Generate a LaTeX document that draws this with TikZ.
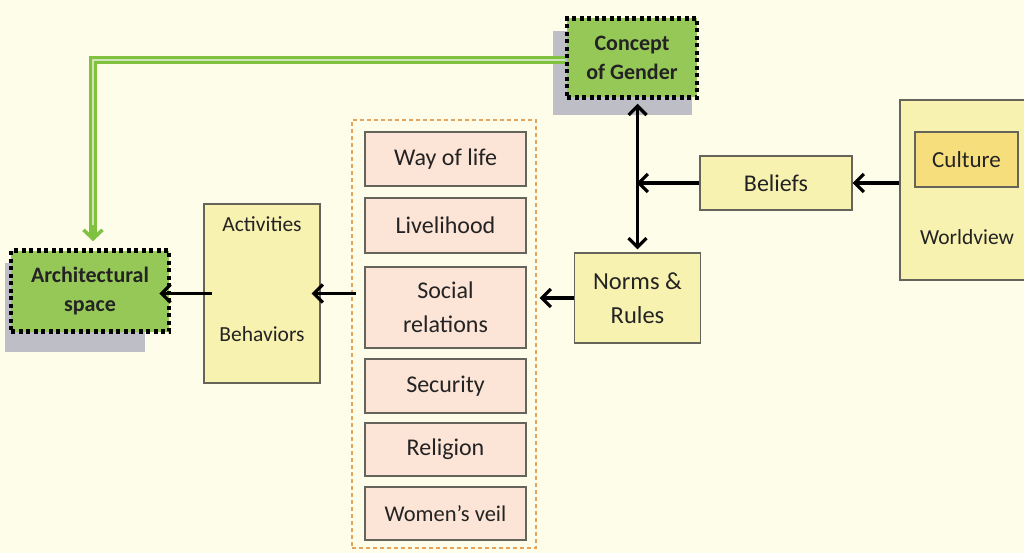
\documentclass[tikz,border=0pt]{standalone}
\usepackage{fontspec}
\setmainfont{Carlito}
\usetikzlibrary{arrows.meta,backgrounds}
\definecolor{cream}{RGB}{253,253,233}
\definecolor{pale}{RGB}{248,242,176}
\definecolor{deep}{RGB}{247,222,125}
\definecolor{pink}{RGB}{252,228,214}
\definecolor{leaf}{RGB}{150,200,88}
\definecolor{vine}{RGB}{128,194,64}
\definecolor{edge}{RGB}{100,100,90}
\definecolor{ink}{RGB}{35,35,35}
\definecolor{smoke}{RGB}{190,190,198}
\definecolor{rim}{RGB}{228,165,90}
\tikzset{
  box/.style={draw=edge, line width=1.2pt, fill=pale, text=ink, align=center, inner sep=0pt},
  item/.style={box, fill=pink, minimum width=161pt, font=\fontsize{24}{28}\selectfont},
  hot/.style={draw=black, line width=4.5pt, dash pattern=on 4pt off 3.5pt, fill=leaf, align=center,
    text=ink, inner sep=0pt, font=\bfseries\fontsize{22}{29}\selectfont},
  arr/.style={line width=3.2pt, -{Straight Barb[length=9pt,width=18pt]}},
  txt/.style={text=ink, inner sep=0pt, font=\fontsize{21.5}{24}\selectfont}
}
\begin{document}
\begin{tikzpicture}[x=1pt,y=-1pt]
  \clip (0,0) rectangle (1024,553);
  \node[hot, minimum width=130pt, minimum height=79pt] (concept) at (632,58) {Concept\\of Gender};
  \node[hot, minimum width=158pt, minimum height=81pt] (arch) at (90,291) {Architectural\\space};
  \node[box, minimum width=116pt, minimum height=179pt] (act) at (262,293.5) {};
  \node[txt] at (262,224) {Activities};
  \node[txt] at (262,334) {Behaviors};
  \node[draw=rim, line width=1.2pt, dash pattern=on 4pt off 3pt, minimum width=184pt, minimum height=428pt] (group) at (444,334) {};
  \node[item, minimum height=54pt] (way) at (445.5,159) {Way of life};
  \node[item, minimum height=55pt] (live) at (445.5,225.5) {Livelihood};
  \node[item, minimum height=81pt, font=\fontsize{24}{34}\selectfont] (social) at (445.5,307.5) {Social\\relations};
  \node[item, minimum height=54pt] (sec) at (445.5,386) {Security};
  \node[item, minimum height=53pt] (rel) at (445.5,449.5) {Religion};
  \node[item, minimum height=53pt, font=\fontsize{22.5}{26}\selectfont] (veil) at (445.5,513.5) {Women’s veil};
  \node[box, minimum width=126pt, minimum height=90pt, font=\fontsize{24.5}{34}\selectfont] (norms) at (637.5,298) {Norms \&\\Rules};
  \node[box, minimum width=152pt, minimum height=54pt, font=\fontsize{24}{28}\selectfont] (beliefs) at (776,183) {Beliefs};
  \node[box, minimum width=130pt, minimum height=180pt] (world) at (965,190) {};
  \node[box, fill=deep, minimum width=103pt, minimum height=55pt, font=\fontsize{23}{27}\selectfont] (culture) at (966.5,159.5) {Culture};
  \node[txt] at (967,237) {Worldview};
  \begin{scope}[on background layer]
    \fill[cream] (0,0) rectangle (1024,553);
    \fill[smoke] ([xshift=-12pt,yshift=-15pt]concept.south west) rectangle ([xshift=-7pt,yshift=-15pt]concept.north east);
    \fill[smoke] ([xshift=-4pt,yshift=-18pt]arch.south west) rectangle ([xshift=-26pt,yshift=-15pt]arch.north east);
  \end{scope}
  % arrows
  \coordinate (gend) at ([xshift=3pt,yshift=7pt]arch.north);
  \draw[vine, line width=3pt, double=white!60!vine, double distance=2.5pt] ([yshift=-2pt]concept.west) -| ([yshift=4pt]gend);
  \draw[vine, line width=3.5pt, -{Straight Barb[length=9pt,width=19pt]}] ([yshift=16pt]gend) -- (gend);
  \draw[arr] ([xshift=9pt]act.west) -- ([xshift=-12pt]act.west -| arch.east);
  \draw[arr] ([xshift=5pt]group.west |- act.east) -- ([xshift=-9pt]act.east);
  \draw[arr] (norms.west) -- ([xshift=3pt]norms.west -| group.east);
  \draw[arr, {Straight Barb[length=9pt,width=18pt]}-{Straight Barb[length=9pt,width=18pt]}] ([yshift=-4pt]norms.north |- concept.south) -- ([yshift=3pt]norms.north);
  \draw[arr] (beliefs.west) -- ([xshift=-1pt]beliefs.west -| norms.north);
  \draw[arr] (world.west |- beliefs.east) -- (beliefs.east);
\end{tikzpicture}
\end{document}
